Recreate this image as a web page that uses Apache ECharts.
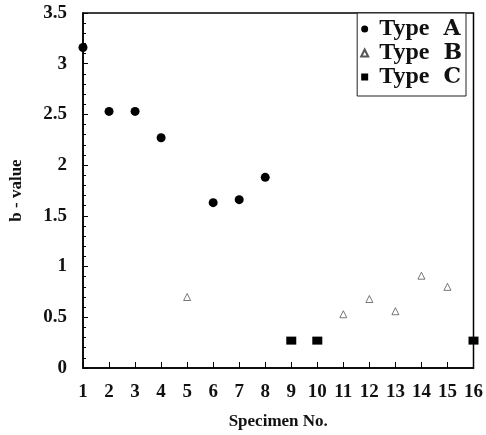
<!DOCTYPE html>
<html>
<head>
<meta charset="utf-8">
<script src="https://cdn.jsdelivr.net/npm/echarts@6/dist/echarts.min.js"></script>
<style>
  html, body { margin: 0; padding: 0; background: #fff; }
  #chart { width: 486px; height: 435px; }
</style>
</head>
<body>
<div id="chart"></div>
<script>
const typeA = [[1, 3.16], [2, 2.53], [3, 2.53], [4, 2.27], [6, 1.63], [7, 1.66], [8, 1.88]];
const typeB = [[5, 0.70], [11, 0.53], [12, 0.68], [13, 0.56], [14, 0.91], [15, 0.80]];
const typeC = [[9, 0.27], [10, 0.27], [16, 0.27]];

const chart = echarts.init(document.getElementById("chart"));

const serif = "Liberation Serif";

chart.setOption({
  animation: false,
  grid: {
    left: 78,
    right: 10,
    top: 13,
    bottom: 62,
    show: true,
    borderColor: "#000",
    borderWidth: 1.5
  },
  legend: {
    right: 20,
    top: 13,
    orient: "vertical",
    itemGap: 0,
    itemWidth: 7,
    itemHeight: 7,
    padding: [4, 4, 7, 3],
    borderColor: "#222",
    borderWidth: 1,
    borderRadius: 0,
    backgroundColor: "#fff",
    data: ["Type A", "Type B", "Type C"],
    formatter: name => "{t|Type}{l|" + name.slice(-1) + "}",
    textStyle: {
      rich: {
        t: { fontFamily: serif, fontWeight: "bold", fontSize: 24, color: "#111", lineHeight: 29, padding: [0, 0, 0, 6] },
        l: { fontFamily: "DejaVu Serif", fontWeight: "bold", fontSize: 22, color: "#111", lineHeight: 29, padding: [0, 0, 0, 14] }
      }
    }
  },
  xAxis: {
    type: "value",
    min: 1,
    max: 16,
    interval: 1,
    name: "Specimen No.",
    nameLocation: "middle",
    nameGap: 45,
    nameTextStyle: { fontFamily: serif, fontWeight: "bold", fontSize: 17, color: "#111" },
    axisLine: { lineStyle: { color: "#000", width: 1.5 } },
    axisTick: { inside: true, length: 6, lineStyle: { color: "#000" } },
    axisLabel: { fontFamily: serif, fontWeight: "bold", fontSize: 19, color: "#111", margin: 15 },
    splitLine: { show: false }
  },
  yAxis: {
    type: "value",
    min: 0,
    max: 3.5,
    interval: 0.5,
    name: "b - value",
    nameLocation: "middle",
    nameGap: 58,
    nameTextStyle: { fontFamily: serif, fontWeight: "bold", fontSize: 17, color: "#111" },
    axisLine: { show: true, lineStyle: { color: "#000", width: 1.5 } },
    axisTick: { inside: true, length: 5, lineStyle: { color: "#000" } },
    minorTick: { show: true, splitNumber: 5, length: 3, lineStyle: { color: "#000" } },
    axisLabel: {
      fontFamily: serif, fontWeight: "bold", fontSize: 19, color: "#111", margin: 16,
      formatter: v => String(v)
    },
    splitLine: { show: false }
  },
  series: [
    {
      name: "Type A",
      type: "scatter",
      clip: false,
      symbol: "circle",
      symbolSize: 9,
      itemStyle: { color: "#000", opacity: 1 },
      data: typeA
    },
    {
      name: "Type B",
      type: "scatter",
      clip: false,
      symbol: "triangle",
      symbolSize: 7,
      itemStyle: { color: "#fff", borderColor: "#555", borderWidth: 0.8, opacity: 1 },
      data: typeB
    },
    {
      name: "Type C",
      type: "scatter",
      clip: false,
      symbol: "rect",
      symbolSize: [10, 8],
      itemStyle: { color: "#000", opacity: 1 },
      data: typeC
    }
  ]
});
</script>
</body>
</html>
